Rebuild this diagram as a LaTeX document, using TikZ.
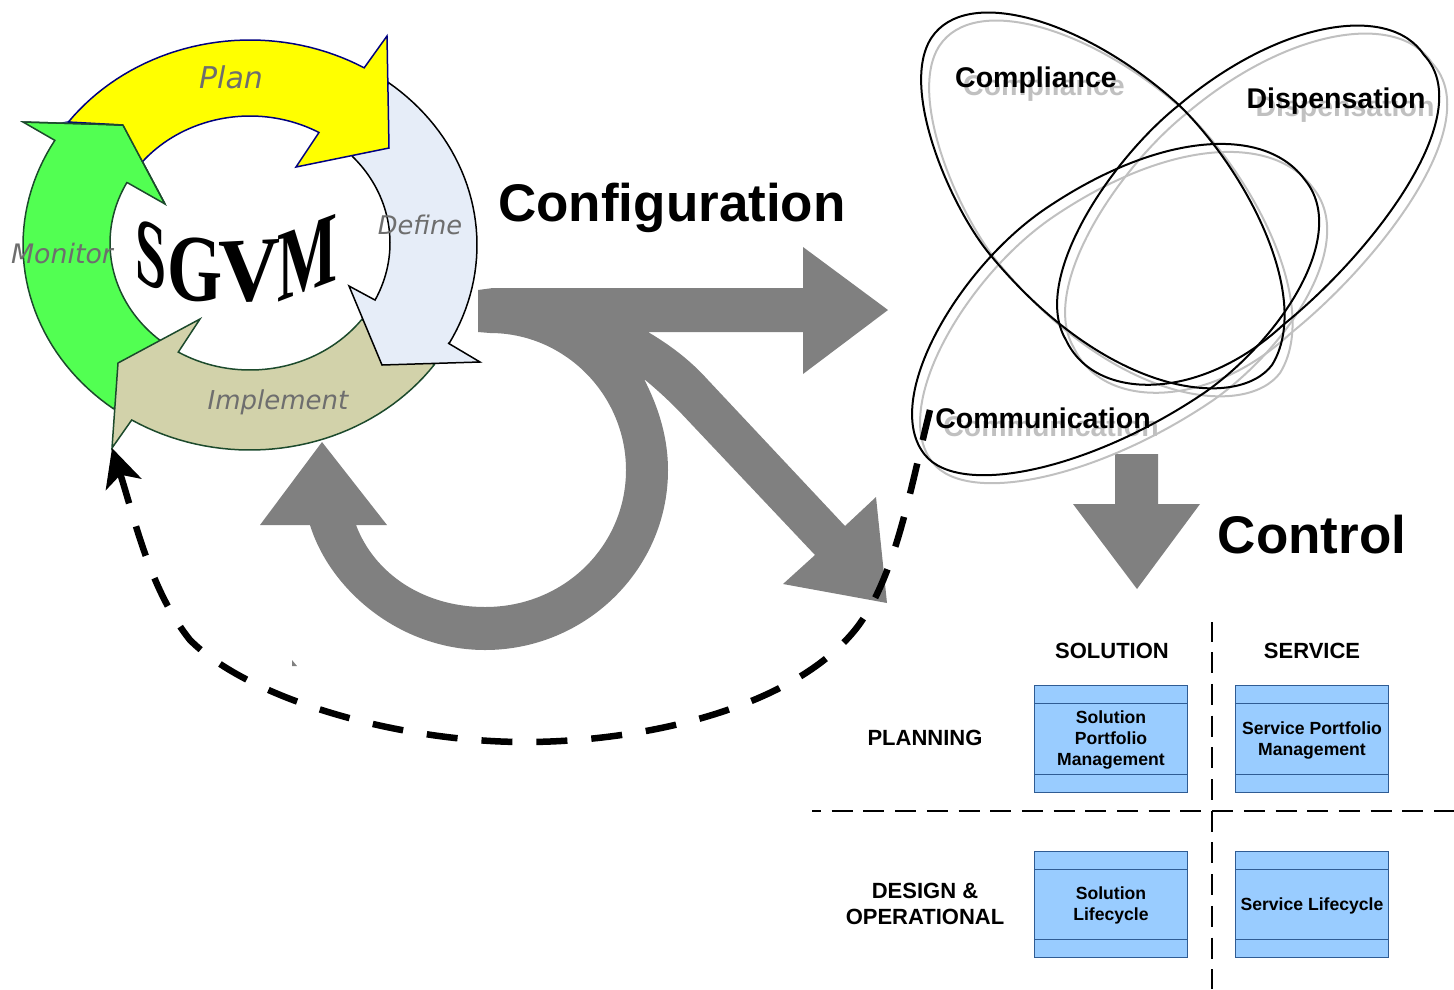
\documentclass[tikz,border=0pt]{standalone}
\usepackage{fontspec}
\setmainfont{Liberation Sans}
\newfontfamily\verd{DejaVu Sans}
\newfontfamily\serifb{Liberation Serif}
\usetikzlibrary{arrows.meta}
\definecolor{greyarrow}{HTML}{808080}
\definecolor{shadowgrey}{HTML}{C0C0C0}
\definecolor{boxfill}{HTML}{99CCFF}
\definecolor{boxline}{HTML}{2F5C94}
\definecolor{planfill}{HTML}{FFFF00}
\definecolor{planline}{HTML}{000080}
\definecolor{monfill}{HTML}{52FF52}
\definecolor{cycleline}{HTML}{1C4A2C}
\definecolor{implfill}{HTML}{D2D2AA}
\definecolor{deffill}{HTML}{E6EDF8}
\definecolor{cyclabel}{HTML}{6E6E6E}
\tikzset{
  x=1pt,y=-1pt,
  phase/.style={font=\verd\itshape\fontsize{#1}{#1}\selectfont,text=cyclabel,inner sep=0pt},
  bigword/.style={font=\bfseries\fontsize{53}{60}\selectfont,inner sep=0pt},
  setname/.style={font=\bfseries\fontsize{28.5}{32}\selectfont,inner sep=0pt},
  setshadow/.style={setname,text=shadowgrey},
  ovalshadow/.style={draw=shadowgrey,line width=2pt,line join=round},
  oval/.style={draw=black,line width=2pt,line join=round},
  heading/.style={font=\bfseries\fontsize{22}{26}\selectfont,inner sep=0pt,align=center},
  procbox/.style={draw=boxline,line width=1pt,fill=boxfill,minimum width=153.5pt,minimum height=106.5pt,inner sep=0pt},
  proctext/.style={inner sep=0pt,align=center,font=\bfseries\fontsize{17.6}{21}\selectfont},
  fatgrey/.style={fill=greyarrow,draw=none},
  griddash/.style={line width=2.4pt,draw=black,dash pattern=on 21pt off 10.7pt},
  sgvmletter/.style={transform shape,inner sep=0pt,font=\serifb\bfseries},
}
\newcommand\procnode[4]{%
  \node[procbox] (#1) at (#2,#3) {};
  \node[proctext,yshift=-1pt] (#1text) at (#1.center) {#4};
  \draw[boxline,line width=1pt] ([yshift=-18.5pt]#1.north west) -- ([yshift=-18.5pt]#1.north east);
  \draw[boxline,line width=1pt] ([yshift=18.5pt]#1.south west) -- ([yshift=18.5pt]#1.south east);
}
\begin{document}
\begin{tikzpicture}
\useasboundingbox (0,0) rectangle (1454,989);
% ---------- cycle
\draw[fill=monfill,draw=cycleline,line width=1.5pt,line join=miter]
  (23,122) -- (123,125) -- (165,204) -- (128,183)
  -- plot[domain=208.4:130,samples=40] ({250+140*cos(\x)},{243+127*sin(\x)})
  -- (115,407)
  -- plot[domain=127:210.7,samples=40] ({250+227*cos(\x)},{245+205*sin(\x)}) -- cycle;
\draw[fill=implfill,draw=cycleline,line width=1.5pt]
  (112,448) -- (118,363) -- (200,319) -- (179,351)
  -- plot[domain=120.8:37,samples=40] ({250+140*cos(\x)},{243+127*sin(\x)})
  -- plot[domain=35.7:121.4,samples=40] ({250+227*cos(\x)},{245+205*sin(\x)}) -- cycle;
\draw[fill=deffill,draw=black,line width=1.5pt]
  (480,362) -- (448,343)
  -- plot[domain=28.7:-52.4,samples=40] ({250+227*cos(\x)},{245+205*sin(\x)})
  -- plot[domain=-43:26.7,samples=40] ({250+140*cos(\x)},{243+127*sin(\x)})
  -- (349,286) -- (382,365) -- cycle;
\draw[fill=planfill,draw=planline,line width=1.5pt]
  (123,125) -- (68,122)
  -- plot[domain=216.9:300.2,samples=40] ({250+227*cos(\x)},{245+205*sin(\x)})
  -- (387,36) -- (389,148) -- (296,167) -- (318,134)
  -- plot[domain=299.5:219.9,samples=40] ({250+140*cos(\x)},{243+127*sin(\x)})
  -- (143,162);
\draw[draw=cycleline,line width=1.5pt] (23,122) -- (123,125) -- (165,204);
\node[phase=30] (plan) at (231,77) {Plan};
\node[phase=26.8] (monitor) at (62,254) {Monitor};
\node[phase=25.7] (define) at (420,225) {Define};
\node[phase=26] (implement) at (278,402.5) {Implement};
% ---------- SGVM
\begin{scope}[shift={(151,255)},yslant=-0.5]
  \node[sgvmletter] (sgvmS) at (0,0) {\resizebox{31pt}{63pt}{S}};
\end{scope}
\begin{scope}[shift={(195,270)},yslant=-0.05]
  \node[sgvmletter] (sgvmG) at (0,0) {\resizebox{55pt}{63pt}{G}};
\end{scope}
\begin{scope}[shift={(250,272)},yslant=0.05]
  \node[sgvmletter] (sgvmV) at (0,0) {\resizebox{62pt}{60pt}{V}};
\end{scope}
\begin{scope}[shift={(307,258)},yslant=0.38]
  \node[sgvmletter] (sgvmM) at (0,0) {\resizebox{60pt}{66pt}{M}};
\end{scope}
% ---------- grey arrows
\fill[fatgrey] (478,290) -- (493,288) -- (803,288) -- (803,247) -- (888,310) -- (803,374) -- (803,332) -- (648,332)
  .. controls (670,345) and (690,360) .. (708,380) -- (845,526) -- (876,497) -- (887,603) -- (783,584) -- (815,555) -- (678,410)
  .. controls (665,397) and (655,388) .. (644,379)
  .. controls (660,410) and (668,440) .. (668,470)
  .. controls (668,570) and (585,650) .. (485,650)
  .. controls (400,650) and (330,590) .. (310,525)
  -- (260,525) -- (322,442) -- (387,525) -- (356,525)
  .. controls (375,575) and (425,607) .. (485,607)
  .. controls (565,607) and (626,545) .. (626,470)
  .. controls (626,395) and (565,333) .. (490,333) -- (478,332) -- cycle;
\fill[fatgrey] (292,660) -- (297,666) -- (292,666) -- cycle;
\fill[fatgrey] (1115,454) -- (1158,454) -- (1158,504) -- (1200,504) -- (1137,589) -- (1073,504) -- (1115,504) -- cycle;
\node[bigword] (configuration) at (672,208) {Configuration};
\node[bigword] (control) at (1312,535) {Control};
% ---------- ovals
\begin{scope}[shift={(8,8)}]
\draw[ovalshadow] (935,33) .. controls (975,-14) and (1090,24) .. (1179,105)
  .. controls (1250,175) and (1312,300) .. (1272,365)
  .. controls (1238,410) and (1110,398) .. (992,257)
  .. controls (950,208) and (895,80) .. (935,33) -- cycle;
\draw[ovalshadow] (1424,55) .. controls (1390,3) and (1280,20) .. (1179,105)
  .. controls (1110,160) and (1030,280) .. (1066,340)
  .. controls (1095,402) and (1200,402) .. (1283,325)
  .. controls (1370,255) and (1480,115) .. (1424,55) -- cycle;
\draw[ovalshadow] (1305,180) .. controls (1265,125) and (1160,132) .. (1048,207)
  .. controls (960,265) and (880,400) .. (925,455)
  .. controls (960,498) and (1090,470) .. (1204,393)
  .. controls (1280,340) and (1350,235) .. (1305,180) -- cycle;
\end{scope}
\node[setshadow] (complianceS) at (1044,88) {Compliance};
\node[setshadow] (dispensationS) at (1345,109) {Dispensation};
\node[setshadow] (communicationS) at (1051,426) {Communication};
\draw[oval] (935,33) .. controls (975,-14) and (1090,24) .. (1179,105)
  .. controls (1250,175) and (1312,300) .. (1272,365)
  .. controls (1238,410) and (1110,398) .. (992,257)
  .. controls (950,208) and (895,80) .. (935,33) -- cycle;
\draw[oval] (1424,55) .. controls (1390,3) and (1280,20) .. (1179,105)
  .. controls (1110,160) and (1030,280) .. (1066,340)
  .. controls (1095,402) and (1200,402) .. (1283,325)
  .. controls (1370,255) and (1480,115) .. (1424,55) -- cycle;
\draw[oval] (1305,180) .. controls (1265,125) and (1160,132) .. (1048,207)
  .. controls (960,265) and (880,400) .. (925,455)
  .. controls (960,498) and (1090,470) .. (1204,393)
  .. controls (1280,340) and (1350,235) .. (1305,180) -- cycle;
\node[setname] (compliance) at (1036,80) {Compliance};
\node[setname] (dispensation) at (1336,101) {Dispensation};
\node[setname] (communication) at (1043,418) {Communication};
% ---------- matrix
\coordinate (vtop) at (1212,622);
\coordinate (vbot) at (1212,989);
\coordinate (hleft) at (812,811);
\coordinate (hright) at (1454,811);
\draw[griddash,dash phase=1.5pt] (vtop) -- (vbot);
\draw[griddash,dash phase=12pt] (hleft) -- (hright);
\node[heading] (solution) at (1112,650.5) {SOLUTION};
\node[heading] (service) at (1312,650.5) {SERVICE};
\node[heading] (planning) at (925,738) {PLANNING};
\node[heading] (design) at (925,904) {DESIGN \&\\OPERATIONAL};
\procnode{spm}{1111}{739}{Solution\\Portfolio\\Management}
\procnode{svpm}{1312}{739}{Service Portfolio\\Management}
\procnode{slc}{1111}{904.5}{Solution\\Lifecycle}
\procnode{svlc}{1312}{904.5}{Service Lifecycle}
% ---------- dashed return
\coordinate (retstart) at (930,410);
\coordinate (retend) at (112,448);
\draw[line width=6.5pt,dash pattern=on 31pt off 24pt,-{Stealth[length=38pt,width=37pt,inset=10pt]}]
  (retstart) .. controls (910,490) and (895,580) .. (855,630)
  .. controls (790,710) and (640,742) .. (525,742)
  .. controls (400,742) and (250,700) .. (190,640)
  .. controls (150,590) and (135,520) .. (retend);
\end{tikzpicture}
\end{document}
